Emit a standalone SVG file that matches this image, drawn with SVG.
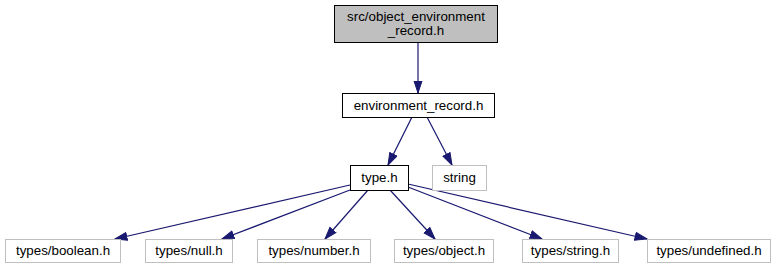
<svg xmlns="http://www.w3.org/2000/svg" width="778" height="269" viewBox="0 0 778 269">
  <style>
    text { font-family: "Liberation Sans", Arial, Helvetica, sans-serif; font-size: 13.33px; fill: #000; text-anchor: middle; }
    .main rect { fill: #bfbfbf; stroke: #000; stroke-width: 1; }
    .local rect { fill: #fff; stroke: #000; stroke-width: 1; }
    .ext rect { fill: #fff; stroke: #bfbfbf; stroke-width: 1; }
    .edge { stroke: #191970; stroke-width: 1.2; fill: none; marker-end: url(#arrow); }
  </style>
  <defs>
    <!-- filled include-arrow head, tip at the end of each connector -->
    <marker id="arrow" markerUnits="userSpaceOnUse" markerWidth="14" markerHeight="10" refX="12.5" refY="4.5" orient="auto">
      <path d="M0.5,0.5 L12.5,4.5 L0.5,8.5 z" fill="#191970" stroke="#191970" stroke-width="1"/>
    </marker>
  </defs>
  <rect width="778" height="269" fill="#fff"/>

  <g id="connectors">
    <line class="edge" x1="418" y1="42" x2="418" y2="93"/>
    <line class="edge" x1="412" y1="117" x2="388" y2="165"/>
    <line class="edge" x1="427" y1="117" x2="452" y2="165"/>
    <line class="edge" x1="350" y1="185" x2="115" y2="239"/>
    <line class="edge" x1="350" y1="190" x2="222" y2="239"/>
    <line class="edge" x1="368" y1="190" x2="325" y2="239"/>
    <line class="edge" x1="390" y1="190" x2="435" y2="239"/>
    <line class="edge" x1="408" y1="187" x2="542" y2="239"/>
    <line class="edge" x1="408" y1="184" x2="647" y2="239"/>
  </g>

  <g id="node-object-environment-record" class="main">
    <rect x="334.5" y="5.5" width="163" height="37"/>
    <text x="416" y="21">src/object_environment</text>
    <text x="416" y="35">_record.h</text>
  </g>
  <g id="node-environment-record" class="local">
    <rect x="342.5" y="93.5" width="152" height="24"/>
    <text x="418.5" y="110">environment_record.h</text>
  </g>
  <g id="node-type" class="local">
    <rect x="350.5" y="165.5" width="58" height="25"/>
    <text x="379.5" y="182">type.h</text>
  </g>
  <g id="node-string" class="ext">
    <rect x="432.5" y="165.5" width="54" height="25"/>
    <text x="459.5" y="182">string</text>
  </g>
  <g id="node-boolean" class="ext">
    <rect x="5.5" y="239.5" width="115" height="23"/>
    <text x="63" y="255">types/boolean.h</text>
  </g>
  <g id="node-null" class="ext">
    <rect x="145.5" y="239.5" width="87" height="23"/>
    <text x="189" y="255">types/null.h</text>
  </g>
  <g id="node-number" class="ext">
    <rect x="257.5" y="239.5" width="113" height="23"/>
    <text x="314" y="255">types/number.h</text>
  </g>
  <g id="node-object" class="ext">
    <rect x="394.5" y="239.5" width="99" height="23"/>
    <text x="444" y="255">types/object.h</text>
  </g>
  <g id="node-string-h" class="ext">
    <rect x="522.5" y="239.5" width="96" height="23"/>
    <text x="570.5" y="255">types/string.h</text>
  </g>
  <g id="node-undefined" class="ext">
    <rect x="647.5" y="239.5" width="123" height="23"/>
    <text x="709" y="255">types/undefined.h</text>
  </g>
</svg>
